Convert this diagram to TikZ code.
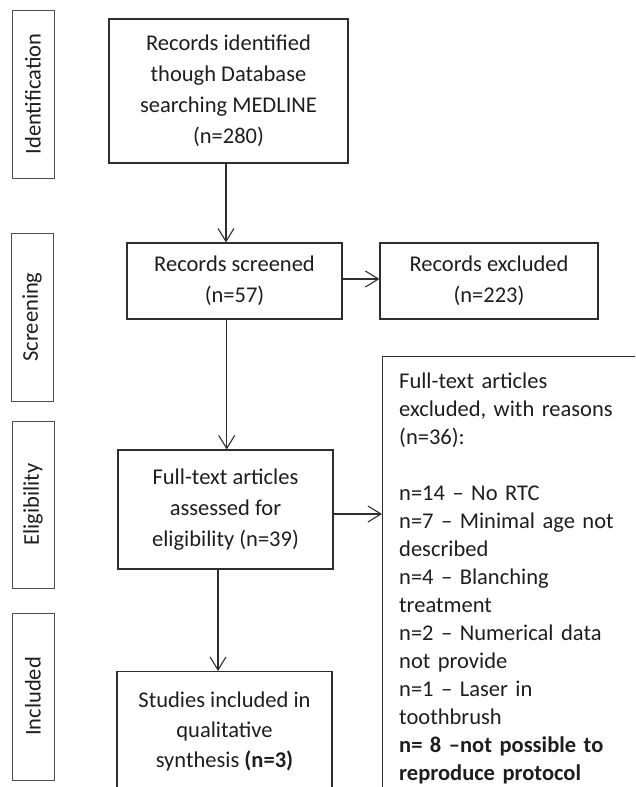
\documentclass[tikz,border=0pt]{standalone}
\usepackage{fontspec}
\setmainfont{Carlito}
\usetikzlibrary{arrows.meta}
\definecolor{ln}{HTML}{2E2E2E}
\definecolor{tx}{HTML}{1E1E1E}
\begin{document}
\begin{tikzpicture}[x=1pt,y=-1pt,
  every node/.style={text=tx, font=\fontsize{22.5}{31}\selectfont},
  box/.style={draw=ln, line width=1.1pt, inner sep=0pt, align=center},
  side/.style={draw=ln!85, line width=0.9pt, inner sep=0pt, rotate=90, minimum height=42pt},
  arr/.style={draw=ln, line width=1.1pt, -{Straight Barb[length=13pt,width=16pt,line width=1.1pt]}},
  txt/.style={inner sep=0pt, align=center}
]
\useasboundingbox (0,0) rectangle (635,787);
\clip (0,0) rectangle (635,787);
% stage labels
\node[side, minimum width=168pt] (sid) at (33,94) {Identification};
\node[side, minimum width=168pt] (sscr) at (32,317) {Screening};
\node[side, minimum width=167pt] (selig) at (33,504.5) {Eligibility};
\node[side, minimum width=167pt] (sinc) at (33,696.5) {Included};
% main boxes
\node[box, minimum width=239pt, minimum height=144pt] (rec) at (228.5,91)
  {Records identified\\though Database\\searching MEDLINE\\(n=280)};
\node[box, minimum width=215pt, minimum height=76pt] (scr) at (234.5,281)
  {Records screened\\(n=57)};
\node[box, minimum width=218pt, minimum height=76pt] (exc) at (489,281)
  {Records excluded\\(n=223)};
\node[box, minimum width=215pt, minimum height=119pt] (full) at (225.5,509.5)
  {Full-text articles\\assessed for\\eligibility (n=39)};
\node[box, minimum width=215pt, minimum height=140pt, anchor=north] (inc) at (224.5,671) {};
\node[txt, font=\fontsize{22.5}{30}\selectfont] (inct) at (224.5,731)
  {Studies included in\\qualitative\\synthesis \textbf{(n=3)}};
\node[box, minimum width=290pt, minimum height=500pt, anchor=north west] (fte) at (382,356) {};
\node[inner sep=0pt, anchor=base west, text width=240pt, align=left,
  font=\fontsize{22.5}{28}\selectfont] (ftet) at (399,388)
  {Full-text articles\\excluded, with reasons\\(n=36):\\[28pt]n=14 – No RTC\\n=7 – Minimal age not\\described\\n=4 – Blanching\\treatment\\n=2 – Numerical data\\not provide\\n=1 – Laser in\\toothbrush\\\textbf{n= 8 –not possible to}\\\textbf{reproduce protocol}};
% connectors
\coordinate (c1) at (226,0);
\coordinate (c2) at (226.7,0);
\coordinate (c3) at (218,0);
\coordinate (r1) at (0,279);
\coordinate (r2) at (0,514);
\draw[arr] (rec.south -| c1) -- (scr.north -| c1);
\draw[arr] (scr.east |- r1) -- (exc.west |- r1);
\draw[arr] (scr.south -| c2) -- (full.north -| c2);
\draw[arr] (full.east |- r2) -- (fte.west |- r2);
\draw[arr] (full.south -| c3) -- (inc.north -| c3);
\end{tikzpicture}
\end{document}
